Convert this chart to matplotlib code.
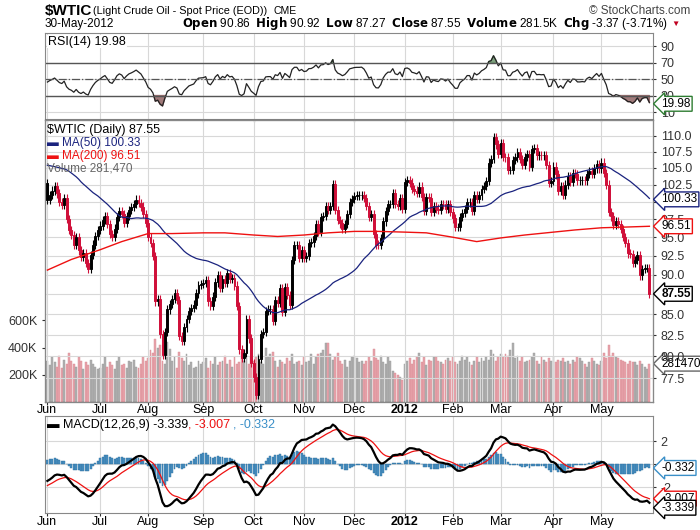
import numpy as np
import pandas as pd
import matplotlib
matplotlib.use('Agg')
import matplotlib.pyplot as plt
from matplotlib.patches import Rectangle

plt.rcParams['font.family'] = ['Liberation Sans', 'DejaVu Sans']

# warm-up closes (late Mar - May 2011), used only for MA(50), RSI and MACD
pre_close = [102.3, 104.0, 105.8, 105.6, 105.4, 104.0, 104.8, 104.3, 104.3, 107.0,
             108.5, 108.3, 108.8, 110.3, 112.8, 109.9, 106.3, 107.1, 108.1, 109.7,
             107.1, 108.2, 111.5, 112.3, 112.9, 112.3, 112.2, 112.8, 113.9, 113.5,
             111.1, 109.2, 99.8, 97.2, 102.6, 103.9, 97.2, 98.2, 99.7, 101.3,
             97.0, 98.4, 97.7, 100.1, 99.6, 99.6, 100.2, 100.6, 101.5, 102.7]

close_jun = [100.2, 101.0, 101.6, 102.3, 101.2, 100.0, 99.5, 100.5, 97.5, 96.0, 95.3,
             94.0, 95.0, 93.2, 92.3, 92.8, 91.5, 90.8, 92.6, 94.0, 95.2, 96.0]
close_jul = [96.6, 97.4, 98.0, 96.8, 95.4, 95.0, 96.2, 97.8, 98.6, 98.2, 97.0, 98.0,
             98.8, 99.2, 99.7, 100.3, 99.8, 99.3, 98.2, 97.0]
close_aug = [95.0, 94.2, 92.5, 86.6, 86.9, 82.6, 80.2, 82.9, 85.6, 86.3, 86.9, 87.6,
             86.8, 82.4, 81.8, 83.4, 84.4, 85.4, 85.8, 86.2, 87.6, 88.7, 88.8]
close_sep = [88.9, 89.3, 86.6, 86.0, 87.2, 89.0, 90.0, 88.3, 89.4, 88.9, 90.2, 89.4,
             89.6, 88.6, 86.0, 80.8, 79.8, 80.4, 84.4, 82.1, 79.2]
close_oct = [77.6, 75.7, 79.7, 82.6, 82.9, 85.4, 85.6, 85.6, 84.2, 86.8, 86.4, 88.3,
             85.3, 88.4, 87.4, 86.2, 91.9, 93.9, 93.9, 92.2, 93.2]
close_nov = [92.2, 92.5, 94.2, 94.3, 95.2, 96.8, 95.7, 97.8, 98.0, 99.4, 98.8, 99.4,
             102.6, 98.8, 97.4, 96.9, 96.2, 96.8, 98.2, 100.0, 100.4]
close_dec = [100.8, 100.9, 100.9, 101.0, 100.5, 99.4, 97.8, 98.2, 95.4, 94.0, 93.9,
             94.9, 97.2, 98.7, 99.7, 99.7, 101.3, 99.7, 99.4, 100.5, 99.0]
close_jan = [102.9, 103.2, 102.8, 101.8, 101.6, 101.3, 102.2, 100.7, 98.7, 100.7,
             100.6, 98.5, 99.4, 99.0, 98.8, 99.7, 99.6, 99.0, 99.6, 98.5]
close_feb = [97.6, 96.4, 96.4, 97.8, 98.4, 98.9, 99.9, 99.9, 98.7, 100.9, 100.4,
             100.9, 101.8, 102.3, 103.0, 105.8, 106.3, 109.7, 108.6, 107.1]
close_mar = [108.8, 106.7, 106.6, 104.7, 104.7, 106.2, 106.6, 107.4, 106.3, 105.4,
             106.7, 107.1, 105.1, 107.9, 108.0, 106.9, 107.0, 106.9, 107.0, 105.4,
             102.8, 103.0]
close_apr = [105.2, 104.0, 101.6, 102.3, 101.0, 102.5, 103.8, 102.9, 104.2, 104.1,
             103.1, 103.1, 103.2, 103.1, 104.1, 104.5, 104.1, 104.9, 105.6, 104.9]
close_may = [105.8, 104.2, 102.5, 98.5, 97.9, 96.7, 97.2, 96.8, 96.1, 95.0, 94.2,
             92.8, 92.7, 91.5, 91.9, 92.6, 89.9, 90.7, 90.9, 90.9, 87.55]

# volume in thousands
vol_jun = [300, 270, 330, 290, 260, 340, 250, 310, 280, 360, 300, 280, 260, 330, 300,
           240, 290, 270, 310, 280, 260, 240]
vol_jul = [250, 280, 330, 260, 290, 270, 240, 300, 330, 270, 280, 250, 300, 290, 310,
           260, 250, 280, 330, 300]
vol_aug = [320, 380, 360, 460, 400, 420, 300, 280, 440, 390, 300, 330, 250, 370, 320,
           300, 350, 270, 290, 250, 260, 300, 280]
vol_sep = [290, 320, 250, 300, 280, 330, 270, 290, 300, 340, 280, 310, 260, 330, 280,
           290, 370, 300, 320, 280, 330]
vol_oct = [300, 330, 350, 290, 280, 400, 330, 350, 370, 300, 260, 310, 290, 280, 320,
           300, 350, 280, 290, 300, 270]
vol_nov = [330, 290, 300, 350, 280, 330, 350, 360, 380, 430, 430, 350, 310, 330, 360,
           300, 280, 310, 260, 300, 330]
vol_dec = [340, 320, 290, 300, 280, 300, 330, 300, 390, 320, 310, 340, 290, 280, 330,
           300, 230, 210, 200, 180, 160]
vol_jan = [280, 300, 320, 280, 310, 330, 360, 290, 330, 270, 310, 300, 330, 330, 300,
           290, 280, 310, 320, 300]
vol_feb = [330, 290, 280, 300, 340, 310, 330, 290, 270, 300, 330, 290, 320, 300, 330,
           310, 380, 350, 300, 330]
vol_mar = [350, 330, 350, 340, 380, 430, 320, 340, 300, 330, 290, 300, 310, 330, 360,
           300, 280, 330, 310, 290, 320, 300]
vol_apr = [330, 290, 310, 300, 320, 290, 300, 280, 310, 290, 330, 320, 300, 280, 260,
           290, 320, 300, 280, 270]
vol_may = [300, 360, 320, 420, 340, 360, 330, 320, 310, 300, 290, 280, 300, 290, 290,
           270, 300, 280, 260, 240, 281.47]

ma200_dates = ['2011-06-01', '2011-06-15', '2011-07-01', '2011-07-15', '2011-08-01',
               '2011-08-15', '2011-09-01', '2011-09-15', '2011-10-03', '2011-10-17',
               '2011-11-01', '2011-11-15', '2011-12-01', '2011-12-15', '2012-01-03',
               '2012-01-17', '2012-02-01', '2012-02-15', '2012-03-01', '2012-03-15',
               '2012-04-02', '2012-04-16', '2012-05-01', '2012-05-15', '2012-05-30']
ma200_vals = [90.6, 92.0, 93.3, 94.4, 95.5, 95.5, 95.6, 95.6, 95.3, 95.1, 95.3, 95.6,
              95.8, 95.8, 95.7, 95.6, 95.0, 94.4, 94.9, 95.3, 95.7, 96.0, 96.3, 96.4, 96.51]

holidays = ['2011-07-04', '2011-09-05', '2011-11-24', '2011-12-26', '2012-01-02',
            '2012-01-16', '2012-02-20', '2012-04-06', '2012-05-28']
month_labels = ['Jun', 'Jul', 'Aug', 'Sep', 'Oct', 'Nov', 'Dec', '2012', 'Feb', 'Mar', 'Apr', 'May']

# ---- assemble series
close = np.array(close_jun + close_jul + close_aug + close_sep + close_oct + close_nov +
                 close_dec + close_jan + close_feb + close_mar + close_apr + close_may)
volume = np.array(vol_jun + vol_jul + vol_aug + vol_sep + vol_oct + vol_nov +
                  vol_dec + vol_jan + vol_feb + vol_mar + vol_apr + vol_may) * 1000
dates = pd.bdate_range('2011-06-01', '2012-05-30')
dates = dates[~dates.isin(pd.to_datetime(holidays))]
n = len(close)
x = np.arange(n)
npre = len(pre_close)
full = pd.Series(np.concatenate([pre_close, close]))

ma50 = full.rolling(50, min_periods=1).mean().values[npre:]
delta = full.diff()
gain = delta.clip(lower=0).ewm(alpha=1/14, adjust=False).mean()
loss = (-delta.clip(upper=0)).ewm(alpha=1/14, adjust=False).mean()
rsi = (100 - 100 / (1 + gain / loss)).values[npre:]
macd = (full.ewm(span=12, adjust=False).mean() - full.ewm(span=26, adjust=False).mean())
signal = macd.ewm(span=9, adjust=False).mean()
hist = (macd - signal).values[npre:]
macd = macd.values[npre:]
signal = signal.values[npre:]

opens = np.concatenate([[pre_close[-1]], close[:-1]])
ma200_x = [np.searchsorted(dates, pd.Timestamp(d)) for d in ma200_dates]
month_idx = [np.argmax((dates.month == m) & (dates.year == y))
             for y, m in [(2011, 6), (2011, 7), (2011, 8), (2011, 9), (2011, 10), (2011, 11),
                          (2011, 12), (2012, 1), (2012, 2), (2012, 3), (2012, 4), (2012, 5)]]

W, H = 700, 530
fig = plt.figure(figsize=(7, 5.3), dpi=100)

def ax_at(l, t, r, b):
    return fig.add_axes([l / W, 1 - b / H, (r - l) / W, (b - t) / H])

GRID = '#d8d8d8'
def style(ax):
    for s in ax.spines.values():
        s.set_color('#888888')
        s.set_linewidth(0.8)
    ax.set_xlim(-1, n + 0.5)
    ax.set_xticks(month_idx)
    ax.set_xticklabels([])
    ax.grid(True, color=GRID, linewidth=0.8)
    ax.set_axisbelow(True)
    ax.tick_params(labelsize=9, length=2, colors='#333333')
    ax.yaxis.tick_right()

def tag(ax, y, text, ec, fc='white', color='black', bold=False):
    ax.annotate(text, xy=(1.0, y), xycoords=('axes fraction', 'data'),
                xytext=(6, 0), textcoords='offset points', va='center', ha='left',
                fontsize=8.5, color=color, fontweight='bold' if bold else 'normal',
                bbox=dict(boxstyle='larrow,pad=0.12', fc=fc, ec=ec, lw=1), zorder=10)

# ---- header
fig.text(45 / W, 1 - 11 / H, '$WTIC', fontsize=11, fontweight='bold', va='center')
fig.text(93 / W, 1 - 11 / H, '(Light Crude Oil - Spot Price (EOD))', fontsize=7.8, va='center')
fig.text(274 / W, 1 - 11 / H, 'CME', fontsize=7.5, va='center')
fig.text(690 / W, 1 - 11 / H, '© StockCharts.com', fontsize=8.5, va='center', ha='right', color='#444444')
fig.text(45 / W, 1 - 24 / H, '30-May-2012', fontsize=8.5, va='center')
fig.text(668 / W, 1 - 24 / H,
         r'$\bf{Open}$ 90.86  $\bf{High}$ 90.92  $\bf{Low}$ 87.27  $\bf{Close}$ 87.55  '
         r'$\bf{Volume}$ 281.5K  $\bf{Chg}$ -3.37 (-3.71%)', fontsize=8.5, va='center', ha='right')
fig.text(671 / W, 1 - 24 / H, '▼', fontsize=6, color='#c00020', va='center')

# ---- RSI panel
ax_r = ax_at(45, 33, 653, 119)
style(ax_r)
ax_r.set_ylim(1.5, 106)
ax_r.set_yticks([10, 30, 50, 70, 90])
ax_r.plot(x, rsi, color='#222222', lw=0.9)
ax_r.axhline(70, color='#555555', lw=1)
ax_r.axhline(30, color='#555555', lw=1)
ax_r.axhline(50, color='#555555', lw=0.9, ls='-.')
ax_r.fill_between(x, rsi, 30, where=rsi < 30, color='#8a5a5a', alpha=0.8, interpolate=True)
ax_r.fill_between(x, rsi, 70, where=rsi > 70, color='#5f8a5f', alpha=0.8, interpolate=True)
ax_r.text(0.005, 0.97, 'RSI(14) %.2f' % 19.98, transform=ax_r.transAxes, fontsize=9, va='top',
          bbox=dict(fc='white', ec='none', pad=0.5))
tag(ax_r, 19.98, '19.98', '#2e7d32')

# ---- main price panel (log scale) with volume behind
ax_p = ax_at(45, 120, 653, 402)
ax_v = ax_p.twinx()
style(ax_p)
ax_p.set_yscale('log')
ax_p.set_ylim(74.9, 112.5)
pt = [77.5, 80, 82.5, 85, 87.5, 90, 92.5, 95, 97.5, 100, 102.5, 105, 107.5, 110]
ax_p.set_yticks(pt)
ax_p.set_yticklabels(['%.1f' % v for v in pt])
ax_p.yaxis.set_minor_locator(matplotlib.ticker.NullLocator())
ax_p.yaxis.set_minor_formatter(matplotlib.ticker.NullFormatter())

ax_v.set_ylim(0, 2070000)
ax_v.yaxis.tick_left()
ax_v.set_yticks([200000, 400000, 600000])
ax_v.set_yticklabels(['200K', '400K', '600K'])
ax_v.tick_params(labelsize=9, length=2, colors='#333333')
ax_p.set_zorder(ax_v.get_zorder() + 1)
ax_p.patch.set_visible(False)
down = np.concatenate([[False], close[1:] < close[:-1]])
vcol = np.where(down, '#e8a5ad', '#b0b0b0')
ax_v.bar(x, volume, width=0.8, color=vcol, edgecolor=np.where(down, '#d88890', '#999999'), linewidth=0.3)

for i in x:
    o, c = opens[i], close[i]
    col = '#d0103a' if down[i] else 'black'
    hi, lo = max(o, c) * 1.006, min(o, c) * 0.994
    ax_p.vlines(i, lo, hi, color=col, lw=0.8)
    if c >= o:
        ax_p.add_patch(Rectangle((i - 0.4, o), 0.8, c - o, fc='white', ec=col, lw=0.7))
    else:
        ax_p.add_patch(Rectangle((i - 0.4, c), 0.8, o - c, fc=col, ec=col, lw=0.7))

ax_p.plot(x, ma50, color='#1a237e', lw=0.9)
ax_p.plot(ma200_x, ma200_vals, color='#ee1111', lw=1.0)

leg_y = [0.985, 0.94, 0.895, 0.85]
ax_p.text(0.004, leg_y[0], '$WTIC (Daily) 87.55', transform=ax_p.transAxes, fontsize=9, va='top')
ax_p.text(0.004, leg_y[1], '▬ MA(50) 100.33', transform=ax_p.transAxes, fontsize=8.5, va='top', color='#1a237e')
ax_p.text(0.004, leg_y[2], '▬ MA(200) 96.51', transform=ax_p.transAxes, fontsize=8.5, va='top', color='#ee1111')
ax_p.text(0.004, leg_y[3], 'Volume 281,470', transform=ax_p.transAxes, fontsize=8.5, va='top', color='#666666')

tag(ax_p, 100.33, '100.33', '#1a237e')
tag(ax_p, 96.51, '96.51', '#ee1111')
tag(ax_p, 87.55, '87.55', 'black', bold=True)
tag(ax_v, 281470, '281470', '#666666')

# ---- MACD panel
ax_m = ax_at(45, 416, 653, 513)
style(ax_m)
ax_m.set_ylim(-4.26, 4.2)
ax_m.set_yticks([-2, 0, 2])
ax_m.set_yticklabels(['-2', '0', '2'])
ax_m.bar(x, hist, width=0.8, color='#4a90c2', edgecolor='#2c6f9e', linewidth=0.3)
ax_m.plot(x, signal, color='#ee1111', lw=0.9)
ax_m.plot(x, macd, color='black', lw=1.6)
ax_m.text(0.004, 0.97, '▬ MACD(12,26,9) -3.339', transform=ax_m.transAxes, fontsize=9, va='top')
ax_m.text(0.235, 0.97, ', -3.007', transform=ax_m.transAxes, fontsize=9, va='top', color='#ee1111')
ax_m.text(0.31, 0.97, ', -0.332', transform=ax_m.transAxes, fontsize=9, va='top', color='#3a8fc8')
tag(ax_m, -0.332, '-0.332', '#3a8fc8')
tag(ax_m, -3.007, '-3.007', '#ee1111')
tag(ax_m, -3.8, '-3.339', 'black')

for y0 in (410, 522):
    for i, lab in zip(month_idx, month_labels):
        fig.text((45 + (i + 1) * 608 / (n + 1.5)) / W, 1 - y0 / H, lab, fontsize=9, ha='center',
                 va='center', fontweight='bold' if lab == '2012' else 'normal')

fig.savefig('out.png', dpi=100)
